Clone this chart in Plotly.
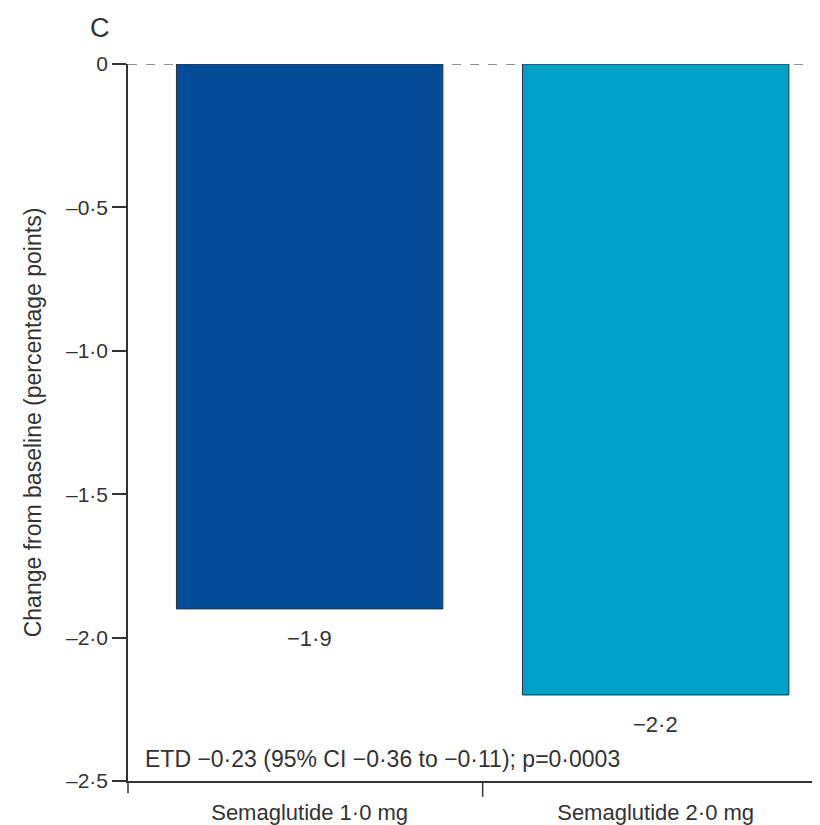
import plotly.graph_objects as go

categories = ["Semaglutide 1·0 mg", "Semaglutide 2·0 mg"]
values = [-1.9, -2.2]
value_labels = ["−1·9", "−2·2"]
bar_colors = ["#054d98", "#00a1c6"]
ytick_vals = [0, -0.5, -1.0, -1.5, -2.0, -2.5]
ytick_text = ["0", "–0·5", "–1·0", "–1·5", "–2·0", "–2·5"]
etd_text = "ETD −0·23 (95% CI −0·36 to −0·11); p=0·0003"

FONT = "Liberation Sans, Arial, sans-serif"
TXT = "#333333"

x_idx = list(range(len(categories)))

fig = go.Figure()
fig.add_trace(go.Bar(
    x=x_idx, y=values, width=0.77,
    marker=dict(color=bar_colors, line=dict(color="#1f3347", width=1)),
    showlegend=False, hoverinfo="skip",
))

# value labels under bars
for xi, v, t in zip(x_idx, values, value_labels):
    fig.add_annotation(x=xi, y=v, text=t, showarrow=False, yanchor="top",
                       yshift=-15, font=dict(family=FONT, size=22, color=TXT))

# dashed zero reference line
fig.add_shape(type="line", xref="paper", x0=0, x1=1, yref="y", y0=0, y1=0,
              line=dict(color="#6f6f6f", width=1.5, dash="dash"), layer="below")
# category divider tick and y-axis extension below x-axis
fig.add_shape(type="line", xref="x", x0=0.5, x1=0.5, yref="paper", y0=0, y1=-0.022,
              line=dict(color=TXT, width=1.5))
fig.add_shape(type="line", xref="paper", x0=0, x1=0, yref="paper", y0=0, y1=-0.017,
              line=dict(color=TXT, width=1.5))

fig.add_annotation(xref="paper", yref="paper", x=0.0217, y=0.031, text=etd_text,
                   showarrow=False, xanchor="left", yanchor="middle",
                   font=dict(family=FONT, size=23, color=TXT))
fig.add_annotation(xref="paper", yref="paper", x=-0.0405, y=1.05, text="C",
                   showarrow=False, xanchor="center", yanchor="middle",
                   font=dict(family=FONT, size=27, color=TXT))

fig.update_layout(
    width=812, height=817,
    margin=dict(l=120, r=0, t=56, b=44, autoexpand=False),
    plot_bgcolor="white", paper_bgcolor="white",
    font=dict(family=FONT, size=21, color=TXT),
    xaxis=dict(range=[-0.525, 1.475], tickvals=x_idx, ticktext=categories,
               ticks="", showline=True, linecolor=TXT, linewidth=1.5,
               showgrid=False, zeroline=False, ticklabelstandoff=11,
               tickfont=dict(family=FONT, size=22, color=TXT), fixedrange=True),
    yaxis=dict(range=[-2.5, 0], tickvals=ytick_vals, ticktext=ytick_text,
               ticks="outside", ticklen=14, tickwidth=1.5, tickcolor=TXT,
               showline=True, linecolor=TXT, linewidth=1.5,
               showgrid=False, zeroline=False,
               tickfont=dict(family=FONT, size=21, color=TXT),
               title=dict(text="Change from baseline (percentage points)",
                          font=dict(family=FONT, size=23, color=TXT), standoff=18)),
)

fig.write_html("out.html")
